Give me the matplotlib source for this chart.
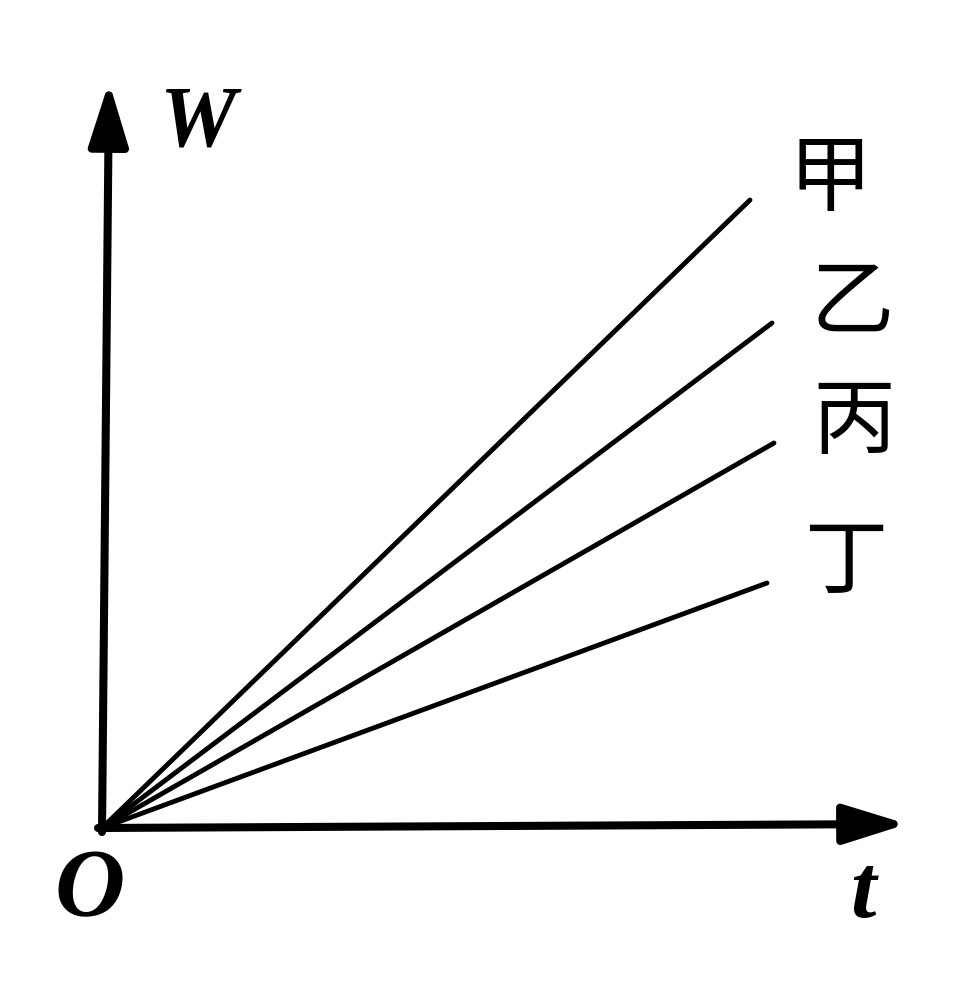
import matplotlib
matplotlib.use("Agg")
import matplotlib.pyplot as plt

# W-t graph: four straight lines through the origin
names = ['甲', '乙', '丙', '丁']
t_end = [648, 670, 672, 665]
W_end = [628, 505, 385, 245]

fig = plt.figure(figsize=(9.56, 9.88), dpi=100)
ax = fig.add_axes([0, 0, 1, 1])
ax.set_xlim(-102, 854)
ax.set_ylim(-160, 828)
ax.axis('off')

# axes with arrows
arrow = dict(arrowstyle='-|>,head_length=0.8,head_width=0.25', lw=5.8,
             color='black', mutation_scale=48, shrinkA=0, shrinkB=0)
ax.annotate('', xy=(805, 4), xytext=(-4, 0), arrowprops=arrow)
ax.annotate('', xy=(7, 746), xytext=(0, -4), arrowprops=arrow)

# lines and labels
for name, t, w in zip(names, t_end, W_end):
    ax.plot([0, t], [0, w], color='black', lw=3.5, solid_capstyle='round')
    ax.text(t + 80, w + 20, name, fontsize=60, ha='center', va='center',
            family=['Noto Sans CJK SC', 'DejaVu Sans'])

serif = dict(family='Liberation Serif', style='italic', weight='bold')
ax.text(95, 703, 'W', fontsize=62, ha='center', va='center', **serif)
ax.text(-12, -65, 'O', fontsize=70, ha='center', va='center', **serif)
ax.text(761, -67, 't', fontsize=66, ha='center', va='center', **serif)

fig.savefig('out.png', dpi=100, facecolor='white')
